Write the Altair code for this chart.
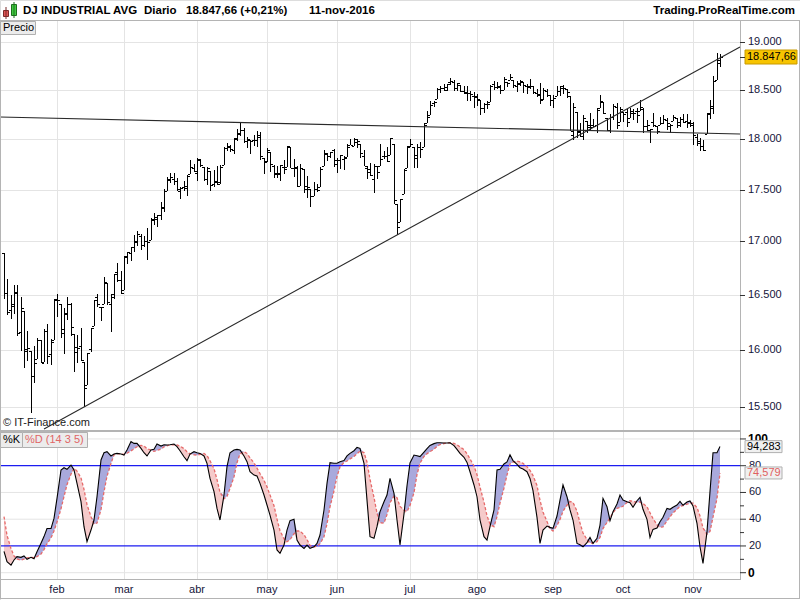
import altair as alt
import pandas as pd

FONT = "Liberation Sans"

# ---------------- data ----------------
months = ["feb", "mar", "abr", "may", "jun", "jul", "ago", "sep", "oct", "nov"]
month_start = [16, 36, 58, 79, 100, 122, 142, 165, 186, 207]   # trading-day index of first bar of month

opens = [
    16888, 16519, 16358, 16420, 16526, 16159, 16355, 16009, 15989, 15768, 15921, 16086, 15893, 16168, 15960, 16090,
    16453, 16420, 16186, 16329, 16417, 16147, 15980, 16036, 15897, 15691, 16012, 16217, 16484, 16389, 16417, 16610, 16418, 16504, 16712, 16634,
    16545, 16850, 16895, 16945, 16991, 17050, 16969, 17006, 17014, 17207, 17217, 17249, 17321, 17481, 17589, 17600, 17581, 17484, 17526, 17512, 17652, 17716,
    17661, 17799, 17718, 17605, 17687, 17555, 17586, 17571, 17741, 17912, 17925, 17890, 18012, 18059, 18092, 17985, 17990, 17987, 17996, 18023, 17813,
    17783, 17870, 17735, 17664, 17650, 17726, 17726, 17919, 17711, 17711, 17531, 17701, 17501, 17501, 17437, 17507, 17525, 17735, 17859, 17826, 17891,
    17754, 17789, 17799, 17825, 17936, 17931, 17969, 17946, 17830, 17710, 17703, 17602, 17733, 17736, 17827, 17832, 17844, 17946, 17355, 17190, 17456, 17712,
    17924, 17924, 17807, 17925, 17924, 18161, 18248, 18366, 18405, 18507, 18521, 18503, 18583, 18582, 18524, 18554, 18494, 18480, 18468, 18434,
    18434, 18401, 18316, 18352, 18381, 18559, 18528, 18541, 18504, 18588, 18600, 18604, 18545, 18564, 18582, 18537, 18542, 18542, 18467, 18458, 18403, 18491, 18451,
    18396, 18434, 18493, 18526, 18506, 18442, 18038, 18277, 18080, 18032, 18180, 18143, 18142, 18142, 18315, 18377, 18211, 18094, 18228, 18326, 18171,
    18279, 18270, 18209, 18265, 18282, 18282, 18308, 18132, 18088, 18177, 18135, 18140, 18165, 18191, 18133, 18187, 18212, 18144, 18203, 18179, 18170,
    18158, 18017, 17978, 17928, 18053, 18251, 18317, 18603, 18781,
]
highs = [
    16888, 16651, 16503, 16591, 16593, 16482, 16355, 16171, 15989, 16038, 16109, 16086, 16185, 16235, 16102, 16466,
    16510, 16420, 16381, 16485, 16423, 16147, 16136, 16201, 15897, 15974, 16196, 16454, 16511, 16392, 16664, 16610, 16507, 16697, 16795, 16726,
    16865, 16900, 16945, 17062, 17099, 17072, 17048, 17130, 17220, 17275, 17251, 17379, 17505, 17620, 17666, 17664, 17610, 17526, 17583, 17642, 17790, 17755,
    17811, 17806, 17718, 17723, 17687, 17694, 17731, 17744, 17918, 17962, 17937, 18009, 18103, 18167, 18107, 18026, 17990, 18043, 18084, 18071, 17814,
    17912, 17870, 17738, 17736, 17744, 17792, 17934, 17919, 17798, 17734, 17755, 17701, 17636, 17501, 17571, 17550, 17724, 17891, 17863, 17873, 17899,
    17809, 17838, 17833, 17949, 18003, 18016, 18005, 17946, 17893, 17733, 17762, 17754, 17733, 17946, 17877, 17920, 18011, 17946, 17355, 17409, 17704, 17930,
    18002, 17924, 17946, 17974, 18166, 18283, 18390, 18389, 18525, 18537, 18561, 18563, 18622, 18605, 18571, 18555, 18540, 18537, 18492, 18483,
    18462, 18401, 18363, 18385, 18556, 18594, 18584, 18550, 18638, 18588, 18668, 18604, 18592, 18605, 18582, 18558, 18613, 18542, 18507, 18574, 18521, 18514, 18451,
    18446, 18538, 18544, 18552, 18506, 18442, 18364, 18277, 18161, 18244, 18180, 18261, 18200, 18318, 18449, 18377, 18211, 18252, 18353, 18365, 18327,
    18279, 18306, 18319, 18304, 18319, 18399, 18312, 18193, 18106, 18262, 18135, 18225, 18245, 18209, 18149, 18244, 18212, 18220, 18251, 18255, 18191,
    18173, 18054, 18007, 17986, 18263, 18400, 18650, 18885, 18875,
]
lows = [
    16463, 16314, 16280, 16322, 16123, 15988, 15842, 15900, 15450, 15704, 15921, 15880, 15893, 15878, 15863, 16090,
    16299, 16108, 15960, 16266, 16129, 15803, 15881, 15899, 15503, 15691, 15986, 16217, 16390, 16262, 16417, 16403, 16165, 16458, 16623, 16510,
    16545, 16791, 16820, 16898, 16957, 16921, 16947, 16821, 17014, 17161, 17141, 17209, 17280, 17481, 17566, 17542, 17481, 17410, 17490, 17434, 17652, 17668,
    17584, 17719, 17579, 17542, 17484, 17528, 17548, 17553, 17741, 17885, 17867, 17848, 17984, 18031, 17963, 17909, 17855, 17934, 17920, 17796, 17651,
    17773, 17670, 17609, 17615, 17580, 17657, 17726, 17711, 17625, 17521, 17531, 17469, 17418, 17331, 17437, 17480, 17525, 17735, 17782, 17807, 17724,
    17664, 17703, 17689, 17822, 17936, 17931, 17915, 17812, 17733, 17602, 17629, 17471, 17602, 17736, 17799, 17770, 17844, 17356, 17063, 17190, 17456, 17711,
    17916, 17713, 17713, 17811, 17924, 18161, 18248, 18322, 18405, 18467, 18495, 18488, 18555, 18495, 18491, 18476, 18457, 18383, 18386, 18319,
    18339, 18240, 18262, 18301, 18381, 18497, 18513, 18464, 18504, 18533, 18600, 18526, 18478, 18541, 18467, 18460, 18513, 18455, 18426, 18356, 18394, 18427, 18335,
    18313, 18434, 18434, 18464, 18423, 18085, 17992, 18008, 18023, 17994, 18065, 18081, 18118, 18057, 18315, 18259, 18085, 18057, 18198, 18103, 18171,
    18177, 18123, 18209, 18191, 18162, 18282, 18061, 18082, 17959, 18119, 18048, 18140, 18151, 18091, 18061, 18187, 18108, 18121, 18166, 18108, 18126,
    17938, 17931, 17884, 17883, 18053, 18200, 18252, 18603, 18736,
]
closes = [
    16514, 16346, 16399, 16516, 16151, 16379, 15988, 16016, 15767, 15883, 16094, 15885, 16167, 15944, 16070, 16466,
    16449, 16154, 16337, 16417, 16205, 16027, 16014, 15915, 15660, 15974, 16196, 16454, 16413, 16392, 16621, 16432, 16485, 16697, 16640, 16517,
    16865, 16899, 16944, 17007, 17074, 16964, 17000, 16995, 17213, 17229, 17252, 17326, 17481, 17602, 17624, 17583, 17503, 17516, 17535, 17633, 17717, 17685,
    17793, 17737, 17603, 17716, 17542, 17577, 17556, 17721, 17908, 17926, 17897, 18004, 18054, 18096, 17983, 18004, 17977, 17990, 18042, 17831, 17774,
    17891, 17751, 17651, 17661, 17741, 17706, 17928, 17711, 17721, 17535, 17711, 17530, 17527, 17435, 17501, 17493, 17706, 17852, 17828, 17873, 17787,
    17790, 17839, 17807, 17920, 17938, 18005, 17985, 17865, 17732, 17675, 17640, 17733, 17675, 17805, 17830, 17781, 18011, 17401, 17140, 17410, 17695, 17930,
    17949, 17841, 17919, 17896, 18147, 18227, 18348, 18372, 18506, 18517, 18533, 18559, 18595, 18517, 18571, 18493, 18474, 18472, 18456, 18432,
    18405, 18314, 18355, 18352, 18544, 18529, 18533, 18496, 18614, 18576, 18636, 18552, 18574, 18598, 18553, 18529, 18547, 18481, 18448, 18395, 18503, 18454, 18401,
    18419, 18492, 18538, 18526, 18480, 18085, 18325, 18067, 18035, 18212, 18124, 18120, 18130, 18294, 18392, 18261, 18095, 18228, 18339, 18143, 18308,
    18254, 18168, 18281, 18269, 18240, 18329, 18129, 18144, 18099, 18138, 18086, 18162, 18203, 18162, 18146, 18223, 18169, 18199, 18170, 18161, 18142,
    18037, 17960, 17931, 17888, 18260, 18333, 18590, 18808, 18847.66,
]
stoch_k = [
    16, 8.2, 5.7, 9.5, 12, 11.5, 12.5, 10, 11.5, 10.5,
    15.7, 22, 27, 33, 33, 40.6, 55.6, 76.8, 78.5, 77.3,
    80.5, 76.8, 66.8, 53.1, 34.4, 23.2, 31.9, 39.4, 56.8, 84.3,
    89.7, 90.5, 87.3, 88.7, 89.2, 88.7, 88, 91.7, 98, 96.7,
    96.7, 93, 89.7, 87.3, 91.7, 92.2, 96.2, 94.7, 95.7, 95.5,
    95.7, 96.2, 94.2, 91.2, 86.7, 83.8, 88.7, 90.5, 89.7, 89.2,
    87.3, 81.8, 70.5, 60.6, 48.1, 39.4, 58.1, 79.3, 89.7, 91.7,
    92.2, 91.7, 87.3, 83, 75.5, 73, 72.3, 66.8, 58.1, 50.6,
    43.1, 31.9, 17, 14.5, 20.7, 31.9, 38.9, 39.9, 24.4, 20.7,
    18.2, 20.7, 18.2, 19.4, 21.9, 28.2, 46.9, 66.8, 82.3, 81.8,
    81.8, 83, 83.8, 87.3, 89.2, 91.2, 93.7, 93, 81.8, 54.3,
    26.9, 25.7, 34.4, 45.6, 53.1, 58.1, 70.5, 59.3, 39.4, 20.7,
    44, 65, 82, 88, 87.5, 86.8, 90.2, 92.7, 95.2, 96.5,
    97.2, 97.2, 97, 97, 97.2, 95, 92.2, 89.2, 86.3, 82.5,
    75.5, 65.6, 56.8, 39.4, 26.9, 24.4, 34.4, 46.9, 76.8, 77.3,
    81.3, 82.8, 88.2, 83.8, 81, 78.5, 77.5, 75.5, 70.5, 61.3,
    41.4, 21.9, 31.9, 34.9, 33.9, 33.2, 42.4, 54.3, 65.6, 56.8,
    46.9, 39.4, 21.9, 20.9, 19.4, 22.4, 26.4, 21.9, 25.7, 35.6,
    55.6, 49.4, 38.9, 45.6, 51.4, 58.1, 54.3, 53.1, 52.3, 48.9,
    53.8, 56.3, 47.4, 39.9, 26.4, 32.4, 33.4, 38.1, 41.4, 48.1,
    47.4, 48.9, 50.6, 53.3, 50.4, 52.8, 53.6, 49.9, 36.9, 19.4,
    7, 30.7, 60.6, 89.7, 89.7, 94.283,
]
stoch_d = [
    42, 28, 18, 12.5, 10.3, 9.4, 10.2, 11.1, 11.5, 11.2,
    12, 13.9, 17.3, 21.6, 26.1, 31.1, 37.8, 47.8, 56.9, 65.8,
    73.7, 78, 76, 70.9, 62.3, 50.9, 41.9, 36.4, 37.1, 47.1,
    60.4, 72.1, 81.7, 88.1, 89.1, 88.9, 88.4, 89.3, 91.1, 92.6,
    94.2, 95.2, 94.8, 92.7, 91.7, 90.8, 91.4, 92.4, 94.1, 94.9,
    95.6, 95.6, 95.5, 94.6, 92.8, 90.4, 88.9, 88.2, 87.9, 88.4,
    89.1, 87.7, 83.7, 77.9, 69.7, 60.1, 55.3, 57.1, 62.9, 71.6,
    82.2, 88.9, 90.5, 89.2, 85.9, 82.1, 78.2, 74.1, 69.1, 64.2,
    58.2, 50.1, 40.1, 31.4, 25.4, 23.2, 24.6, 29.2, 31.2, 31.2,
    28.4, 24.8, 20.4, 19.4, 19.7, 21.7, 26.9, 36.6, 49.2, 61.2,
    71.9, 79.1, 82.5, 83.5, 85, 86.9, 89, 90.9, 89.8, 82.8,
    69.9, 56.3, 44.6, 37.4, 37.1, 43.4, 52.3, 57.3, 56.1, 49.6,
    46.8, 45.7, 50.2, 59.9, 73.3, 81.9, 86.9, 89, 90.5, 92.3,
    94.4, 95.8, 96.6, 97, 97.1, 96.7, 95.7, 94.1, 92, 89,
    85.1, 79.8, 73.3, 64, 52.8, 42.6, 36.4, 34.4, 41.9, 52,
    63.3, 73, 81.3, 82.7, 83.4, 82.9, 81.8, 79.3, 76.6, 72.7,
    65.2, 54.1, 45.4, 38.3, 32.8, 31.2, 35.3, 39.7, 45.9, 50.5,
    53.2, 52.6, 46.1, 37.2, 29.7, 24.8, 22.2, 22.2, 23.2, 26.4,
    33, 37.6, 41, 45, 48.2, 48.7, 49.7, 52.5, 53.8, 53.3,
    52.5, 52.9, 51.7, 49.3, 44.8, 40.5, 35.9, 34, 34.3, 38.7,
    41.7, 44.8, 47.3, 49.7, 50.1, 51.2, 52.1, 52, 48.7, 42.5,
    33.4, 28.8, 30.9, 41.5, 55.5, 74.579,
]

price_ticks = [15500, 16000, 16500, 17000, 17500, 18000, 18500, 19000]
price_tick_labels = ["15.500", "16.000", "16.500", "17.000", "17.500", "18.000", "18.500", "19.000"]
stoch_ticks = [0, 20, 40, 60, 80, 100]
stoch_tick_labels = ["0", "20", "40", "60", "80", "100"]
stoch_tick_weight = ["bold", "normal", "normal", "normal", "normal", "bold"]
stoch_minor = [10, 30, 50, 70, 90]
stoch_grey = [0, 40, 60, 100]
stoch_blue = [20, 80]

# trend lines (bar index, price)
resist_i = [-1.2, 221.02]
resist_p = [18223, 18048]
support_i = [12, 24, 118, 221.02]
support_p = [15313, 15503, 17063, 18952]

# ---------------- tables ----------------
n = len(closes)
df = pd.DataFrame({"i": list(range(n)), "o": opens, "h": highs, "l": lows, "c": closes,
                   "k": stoch_k, "d": stoch_d})
df["kmax"] = df[["k", "d"]].max(axis=1)
df["kmin"] = df[["k", "d"]].min(axis=1)
last = df.tail(1).copy()
last["plab"] = last["c"].map(lambda v: f"{v:,.2f}".replace(",", "X").replace(".", ",").replace("X", "."))
last["klab"] = last["k"].map(lambda v: f"{v:.3f}".replace(".", ","))
last["dlab"] = last["d"].map(lambda v: f"{v:.3f}".replace(".", ","))

ptick_df = pd.DataFrame({"v": price_ticks, "lab": price_tick_labels})
stick_df = pd.DataFrame({"v": stoch_ticks, "lab": stoch_tick_labels, "w": stoch_tick_weight})
sminor_df = pd.DataFrame({"v": stoch_minor})
sgrey_df = pd.DataFrame({"v": stoch_grey})
sblue_df = pd.DataFrame({"v": stoch_blue})
month_df = pd.DataFrame({"i": month_start, "m": months})
resist_df = pd.DataFrame({"i": resist_i, "p": resist_p})
support_df = pd.DataFrame({"i": support_i, "p": support_p})
ONE = pd.DataFrame({"z": [0]})

# ---------------- scales ----------------
XS = alt.Scale(domain=[-1.2, 221.02], range=[0, 740], zero=False, nice=False, round=True)
YP = alt.Scale(type="log", domain=[15301, 19238], range=[430, 20], nice=False, round=True)
YS = alt.Scale(domain=[-4.7, 105.2], range=[579, 432], zero=False, nice=False)

X = lambda f: alt.X(f, type="quantitative", scale=XS, axis=None)
YPr = lambda f: alt.Y(f, type="quantitative", scale=YP, axis=None)
YSt = lambda f: alt.Y(f, type="quantitative", scale=YS, axis=None)

GRID = "#e4e4e4"
FRAME = "#b4b4b4"
AXTXT = "#15153a"


def hline(y, x1, x2, color, w=1):
    return alt.Chart(ONE).mark_rule(color=color, strokeWidth=w).encode(
        x=alt.value(x1), x2=alt.value(x2), y=alt.value(y))


def vline(x, y1, y2, color, w=1):
    return alt.Chart(ONE).mark_rule(color=color, strokeWidth=w).encode(
        x=alt.value(x), y=alt.value(y1), y2=alt.value(y2))


def box(x1, y1, x2, y2, fill, stroke):
    return alt.Chart(ONE).mark_rect(fill=fill, stroke=stroke, strokeWidth=1).encode(
        x=alt.value(x1), x2=alt.value(x2), y=alt.value(y1), y2=alt.value(y2))


def label(text, x, y, size=11, weight="normal", color="#000000", align="left"):
    return alt.Chart(ONE).mark_text(text=text, align=align, baseline="middle", fontSize=size,
                                    fontWeight=weight, color=color, font=FONT).encode(
        x=alt.value(x), y=alt.value(y))


layers = []

# grid lines
layers.append(alt.Chart(ptick_df).mark_rule(color=GRID, yOffset=0.5).encode(
    y=YPr("v"), x=alt.value(0), x2=alt.value(740)))
layers.append(alt.Chart(month_df).mark_rule(color=GRID, xOffset=0.5).encode(
    x=X("i"), y=alt.value(21), y2=alt.value(430)))
layers.append(alt.Chart(month_df).mark_rule(color=GRID, xOffset=0.5).encode(
    x=X("i"), y=alt.value(432), y2=alt.value(579)))
layers.append(alt.Chart(sgrey_df).mark_rule(color=GRID).encode(
    y=YSt("v"), x=alt.value(0), x2=alt.value(740)))

# OHLC bars
layers.append(alt.Chart(df).mark_rule(color="black", strokeWidth=1, xOffset=0.5).encode(
    x=X("i"), y=YPr("l"), y2=alt.Y2("h")))
layers.append(alt.Chart(df).mark_rule(color="black", strokeWidth=1, xOffset=-2, x2Offset=0, yOffset=0.5).encode(
    x=X("i"), x2=alt.X2("i"), y=YPr("o")))
layers.append(alt.Chart(df).mark_rule(color="black", strokeWidth=1, xOffset=1, x2Offset=3, yOffset=0.5).encode(
    x=X("i"), x2=alt.X2("i"), y=YPr("c")))

# trend lines
layers.append(alt.Chart(resist_df).mark_line(color="#2a2a2a", strokeWidth=1.1).encode(
    x=X("i"), y=YPr("p")))
layers.append(alt.Chart(support_df).mark_line(color="#2a2a2a", strokeWidth=1.1).encode(
    x=X("i"), y=YPr("p")))

# stochastic fills
layers.append(alt.Chart(df).mark_area(color="#a9a9dc", opacity=1).encode(
    x=X("i"), y=YSt("kmax"), y2=alt.Y2("d")))
layers.append(alt.Chart(df).mark_area(color="#f5caca", opacity=1).encode(
    x=X("i"), y=YSt("d"), y2=alt.Y2("kmin")))
layers.append(alt.Chart(sblue_df).mark_rule(color="#1c1cf0", strokeWidth=1.2).encode(
    y=YSt("v"), x=alt.value(0), x2=alt.value(740)))
layers.append(alt.Chart(df).mark_line(color="#e66a6a", strokeWidth=1.3, strokeDash=[3, 2]).encode(
    x=X("i"), y=YSt("d")))
layers.append(alt.Chart(df).mark_line(color="#000000", strokeWidth=1.1).encode(
    x=X("i"), y=YSt("k")))

# frames and separators
layers.append(hline(20.5, 0, 800, FRAME))
layers.append(hline(431, 0, 740, FRAME, 2))
layers.append(hline(579.5, 0, 740, FRAME))
layers.append(hline(598.5, 0, 800, FRAME))
layers.append(vline(0.5, 20, 599, FRAME))
layers.append(vline(740.5, 20, 580, FRAME))
layers.append(vline(799.5, 20, 599, FRAME))

# price axis
layers.append(alt.Chart(ptick_df).mark_rule(color="#333333", yOffset=0.5).encode(
    y=YPr("v"), x=alt.value(740), x2=alt.value(745)))
layers.append(alt.Chart(ptick_df).mark_text(align="left", baseline="middle", fontSize=11, font=FONT,
                                            color=AXTXT).encode(
    y=YPr("v"), x=alt.value(748), text="lab:N"))

# stochastic axis
layers.append(alt.Chart(stick_df).mark_rule(color="#333333").encode(
    y=YSt("v"), x=alt.value(740), x2=alt.value(746)))
layers.append(alt.Chart(sminor_df).mark_rule(color="#333333").encode(
    y=YSt("v"), x=alt.value(740), x2=alt.value(744)))
layers.append(alt.Chart(stick_df[stick_df["w"] == "normal"]).mark_text(
    align="left", baseline="middle", fontSize=11, font=FONT, color=AXTXT).encode(
    y=YSt("v"), x=alt.value(749), text="lab:N"))
layers.append(alt.Chart(stick_df[stick_df["w"] == "bold"]).mark_text(
    align="left", baseline="middle", fontSize=12, fontWeight="bold", font=FONT, color="#000000").encode(
    y=YSt("v"), x=alt.value(748), text="lab:N"))

# last-value boxes
layers.append(alt.Chart(last).mark_rect(fill="#f7c400", stroke="#c89a00", yOffset=-7, y2Offset=7).encode(
    y=YPr("c"), y2=alt.Y2("c"), x=alt.value(745), x2=alt.value(797)))
layers.append(alt.Chart(last).mark_rule(color="#333333", yOffset=0.5).encode(
    y=YPr("c"), x=alt.value(740), x2=alt.value(745)))
layers.append(alt.Chart(last).mark_text(align="left", baseline="middle", fontSize=11, font=FONT,
                                        color="#000000").encode(
    y=YPr("c"), x=alt.value(747), text="plab:N"))
layers.append(alt.Chart(last).mark_rect(fill="#f0f0f0", stroke="#b0b0b0", yOffset=-6, y2Offset=6).encode(
    y=YSt("k"), y2=alt.Y2("k"), x=alt.value(745), x2=alt.value(782)))
layers.append(alt.Chart(last).mark_text(align="left", baseline="middle", fontSize=11, font=FONT,
                                        color="#000000").encode(
    y=YSt("k"), x=alt.value(747), text="klab:N"))
layers.append(alt.Chart(last).mark_rect(fill="#f0f0f0", stroke="#b0b0b0", yOffset=-6, y2Offset=6).encode(
    y=YSt("d"), y2=alt.Y2("d"), x=alt.value(745), x2=alt.value(782)))
layers.append(alt.Chart(last).mark_text(align="left", baseline="middle", fontSize=11, font=FONT,
                                        color="#e06060").encode(
    y=YSt("d"), x=alt.value(747), text="dlab:N"))

# month labels
layers.append(alt.Chart(month_df).mark_text(align="center", baseline="middle", fontSize=11, font=FONT,
                                            color=AXTXT).encode(
    x=X("i"), y=alt.value(590), text="m:N"))

# header
layers.append(box(3.5, 10.5, 8.5, 16.5, "#e05555", "#7a2a2a"))
layers.append(vline(6, 7, 19, "#7a2a2a"))
layers.append(box(11.5, 4.5, 16.5, 15.5, "#40cc40", "#1f6f1f"))
layers.append(vline(14, 2, 18, "#1f6f1f"))
layers.append(label("DJ INDUSTRIAL AVG", 23, 11, 11.5, "bold"))
layers.append(label("Diario", 144, 11, 11.5, "bold"))
layers.append(label("18.847,66 (+0,21%)", 186, 11, 11.5, "bold"))
layers.append(label("11-nov-2016", 309, 11, 11.5, "bold"))
layers.append(label("Trading.ProRealTime.com", 795, 11, 11.5, "bold", align="right"))

# panel captions
layers.append(box(0.5, 21.5, 35.5, 34.5, "#ececec", "#b0b0b0"))
layers.append(label("Precio", 3, 28, 11))
layers.append(label("© IT-Finance.com", 3, 423, 11, color="#1a1a1a"))
layers.append(box(0.5, 432.5, 22.5, 447.5, "#ececec", "#b0b0b0"))
layers.append(label("%K", 3, 440, 11))
layers.append(box(22.5, 432.5, 87.5, 447.5, "#ececec", "#b0b0b0"))
layers.append(label("%D (14 3 5)", 25, 440, 11, color="#e06666"))

chart = alt.layer(*layers).resolve_scale(y="independent").properties(
    width=800, height=600, padding=0,
    autosize=alt.AutoSizeParams(type="none"),
).configure_view(stroke=None).configure(background="white")

chart.save("out.html", embed_options={"renderer": "svg", "actions": False})
